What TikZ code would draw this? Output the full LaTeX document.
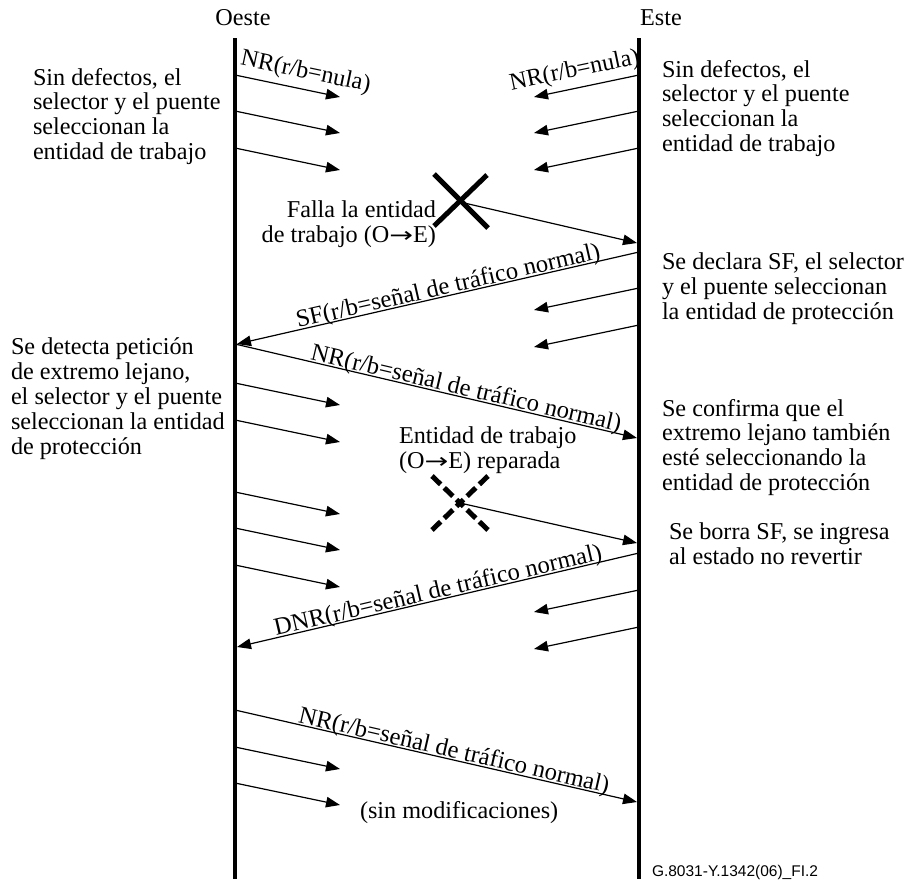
\documentclass[tikz,border=0pt]{standalone}
\usepackage{fontspec}
\usepackage{graphicx}
\setmainfont{Liberation Serif}
\newfontfamily\figsans{Liberation Sans}
\newfontfamily\arrowfont{DejaVu Sans}
\newcommand{\dirOE}{(O\scalebox{1.35}[1]{\arrowfont\fontsize{21}{21}\selectfont →}E)}
\usetikzlibrary{arrows.meta}
\begin{document}
\begin{tikzpicture}[x=1pt,y=-1pt,
  every node/.style={inner sep=0pt, outer sep=0pt, font=\fontsize{24.2}{24.8}\selectfont},
  life/.style={line width=4pt},
  msg/.style={line width=1.2pt, -{Triangle[length=14pt,width=10.5pt]}},
  txt/.style={align=left, anchor=north west},
  lbl/.style={sloped, above, inner sep=2pt, text depth=0pt, font=\fontsize{24.6}{25}\selectfont},
  cross/.style={line width=5pt},
  dcross/.style={line width=5pt, dash pattern=on 12pt off 5pt},
]
\useasboundingbox (0,0) rectangle (905,879);

% headings
\node[anchor=base] (oeste) at (243,25) {Oeste};
\node[anchor=base] (este) at (661,25) {Este};

% lifelines
\coordinate (wtop) at (235,38); \coordinate (wbot) at (235,879);
\coordinate (etop) at (639,38); \coordinate (ebot) at (639,879);
\draw[life] (wtop) -- (wbot);
\draw[life] (etop) -- (ebot);

% texts
\node[txt] (l1) at (33,68) {Sin defectos, el\\selector y el puente\\seleccionan la\\entidad de trabajo};
\node[txt] (r1) at (662,60) {Sin defectos, el\\selector y el puente\\seleccionan la\\entidad de trabajo};
\node[align=right, anchor=north east] (falla) at (436,201) {Falla la entidad\\de trabajo \dirOE};
\node[txt] (r2) at (662,253) {Se declara SF, el selector\\y el puente seleccionan\\la entidad de protección};
\node[txt] (l2) at (11,338) {Se detecta petición\\de extremo lejano,\\el selector y el puente\\seleccionan la entidad\\de protección};
\node[txt] (rep) at (399,427) {Entidad de trabajo\\\dirOE{} reparada};
\node[txt] (r3) at (662,399) {Se confirma que el\\extremo lejano también\\esté seleccionando la\\entidad de protección};
\node[txt] (r4) at (669,523) {Se borra SF, se ingresa\\al estado no revertir};
\node[anchor=base west] (sinmod) at (360,818) {(sin modificaciones)};
\node[anchor=base west, font=\figsans\fontsize{15.5}{18}\selectfont] (fig) at (652,876) {G.8031-Y.1342(06)\_FI.2};

% short arrows west -> east
\coordinate (ls1) at (235,75); \coordinate (le1) at (340,97);
\draw[msg] (ls1) -- node[lbl, pos=0.64, above=9pt, font=\fontsize{24.2}{24.8}\selectfont] (nrw) {NR(r/b=nula)} (le1);
\foreach \n/\y in {2/111,3/148,4/383,5/420,6/492,7/528,8/565,9/747,10/783}{
  \coordinate (ls\n) at (235,\y);
  \coordinate (le\n) at (340,\y+22);
  \draw[msg] (ls\n) -- (le\n);
}

% short arrows east -> west
\coordinate (rs1) at (639,75); \coordinate (re1) at (534,97);
\draw[msg] (rs1) -- node[lbl, pos=0.58, above=9pt, font=\fontsize{24.2}{24.8}\selectfont] (nre) {NR(r/b=nula)} (re1);
\foreach \n/\y in {2/111,3/148,4/288,5/325,6/590,7/627}{
  \coordinate (rs\n) at (639,\y);
  \coordinate (re\n) at (534,\y+22);
  \draw[msg] (rs\n) -- (re\n);
}

% failure cross
\coordinate (xf) at (460,202);
\draw[cross] (434,174) -- (488,228);
\draw[cross] (487,175) -- (434,226);
\coordinate (xfe) at (637,243);
\draw[msg] (xf) -- (xfe);

% SF
\coordinate (sfs) at (639,252); \coordinate (sfe) at (237,344);
\draw[msg] (sfs) -- node[lbl, pos=0.47] (sfl) {SF(r/b=señal de tráfico normal)} (sfe);

% NR
\coordinate (nrs) at (235,344); \coordinate (nre2) at (637,438);
\draw[msg] (nrs) -- node[lbl, pos=0.57] (nrl) {NR(r/b=señal de tráfico normal)} (nre2);

% repaired cross (dashed)
\coordinate (xr) at (460,503);
\draw[dcross] (432,476) -- (xr);
\draw[dcross] (488,476) -- (xr);
\draw[dcross] (432,530) -- (xr);
\draw[dcross] (488,530) -- (xr);
\coordinate (xre) at (637,543);
\draw[msg] (xr) -- (xre);

% DNR
\coordinate (dns) at (639,553); \coordinate (dne) at (237,647);
\draw[msg] (dns) -- node[lbl, pos=0.495] (dnl) {DNR(r/b=señal de tráfico normal)} (dne);

% NR bottom
\coordinate (nbs) at (235,710); \coordinate (nbe) at (637,802);
\draw[msg] (nbs) -- node[lbl, pos=0.54] (nbl) {NR(r/b=señal de tráfico normal)} (nbe);
\end{tikzpicture}
\end{document}
